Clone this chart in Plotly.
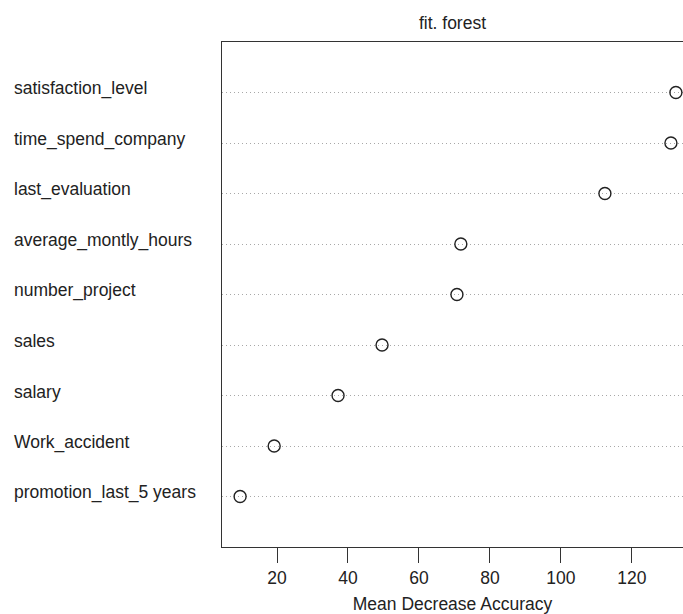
import plotly.graph_objects as go

variables = ["satisfaction_level", "time_spend_company", "last_evaluation",
             "average_montly_hours", "number_project", "sales", "salary",
             "Work_accident", "promotion_last_5 years"]
mean_decrease_accuracy = [132.4, 131.0, 112.4, 71.8, 70.7, 49.6, 37.2, 19.2, 9.6]
x_ticks = [20, 40, 60, 80, 100, 120]

font = "Liberation Sans, Arial, sans-serif"
fs = 17.5

fig = go.Figure()
fig.add_trace(go.Scatter(
    x=mean_decrease_accuracy, y=variables, mode="markers",
    marker=dict(symbol="circle-open", size=12, color="#222222",
                line=dict(width=1.4, color="#222222")),
    cliponaxis=False, showlegend=False, hoverinfo="x+y"))

for v in variables:
    fig.add_annotation(x=0, xref="paper", xshift=-210, xanchor="left",
                       y=v, yref="y", yshift=4, text=v, showarrow=False,
                       font=dict(size=fs, color="#222222", family=font))

fig.update_layout(
    width=683, height=614,
    margin=dict(l=222, r=0, t=42, b=67),
    paper_bgcolor="white", plot_bgcolor="white",
    font=dict(family=font, size=fs, color="#222222"),
    title=dict(text="fit. forest", x=0.5, xanchor="center", xref="paper",
               y=1, yref="paper", yanchor="bottom", pad=dict(b=13),
               font=dict(size=fs, color="#222222", family=font)),
    xaxis=dict(range=[4.5, 134.4], tickvals=x_ticks, ticks="outside",
               ticklen=15, tickwidth=1.3, tickcolor="#333333",
               showline=True, linecolor="#333333", linewidth=1.3,
               mirror=True, showgrid=False, zeroline=False,
               tickfont=dict(size=fs, color="#222222"),
               title=dict(text="Mean Decrease Accuracy", standoff=10,
                          font=dict(size=fs, color="#222222"))),
    yaxis=dict(type="category", categoryorder="array",
               categoryarray=variables[::-1], range=[-1, 9],
               showticklabels=False, ticks="",
               showline=True, linecolor="#333333", linewidth=1.3,
               showgrid=True, gridcolor="#a8a8a8", griddash="1px,3px",
               gridwidth=1, zeroline=False),
)

fig.write_html("out.html", config={"displayModeBar": False},
               post_script="document.body.style.margin='0';document.body.style.overflow='hidden';")
